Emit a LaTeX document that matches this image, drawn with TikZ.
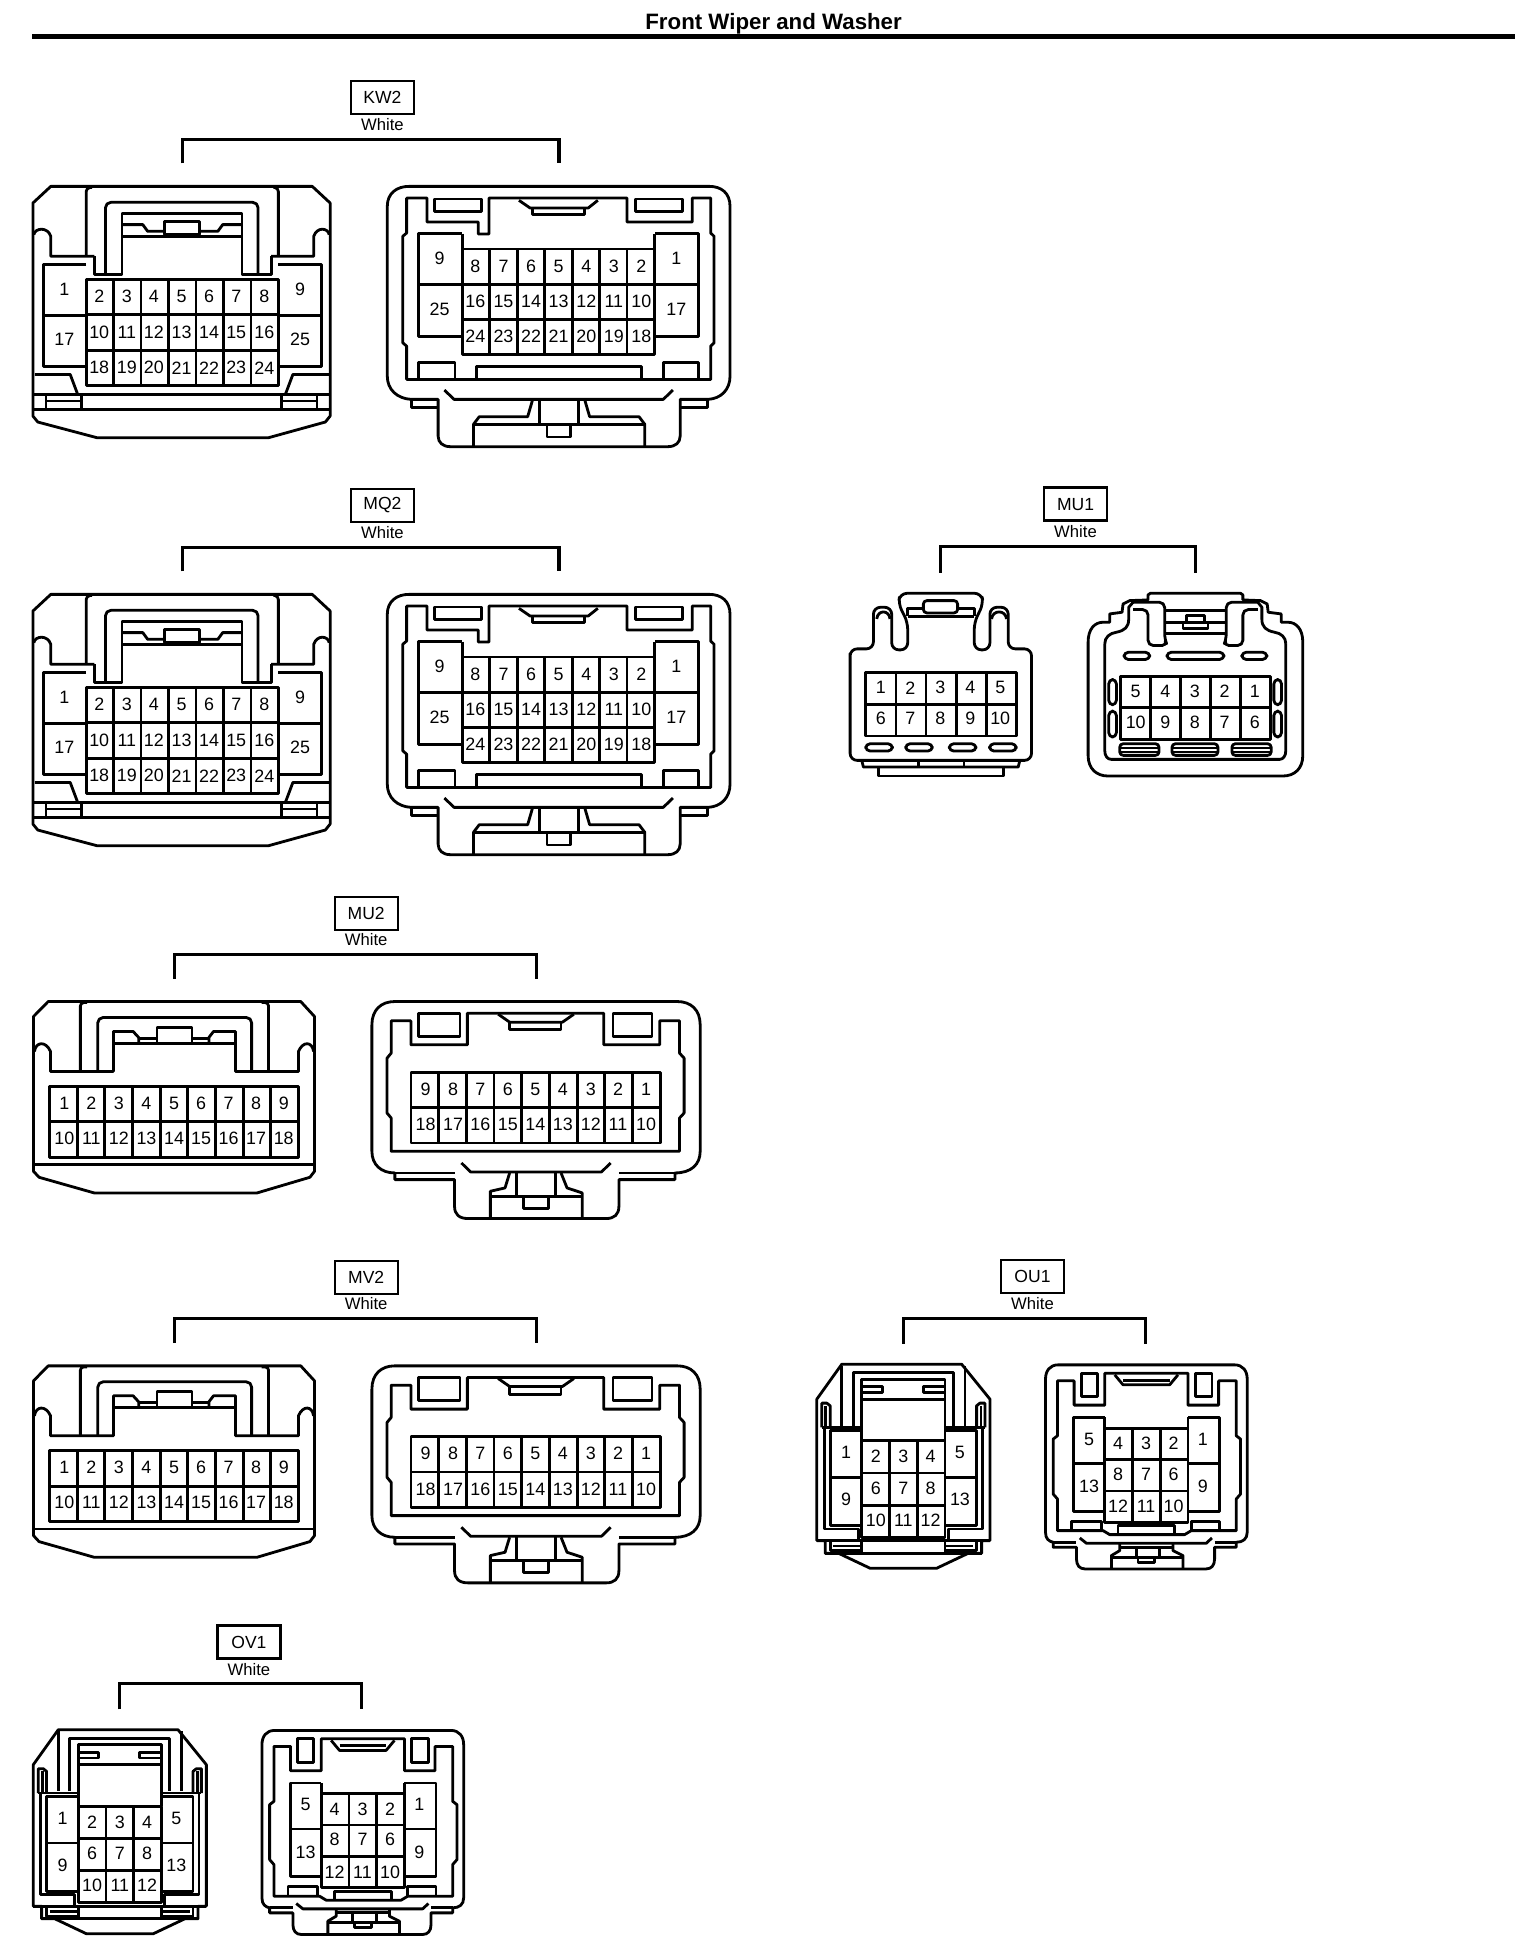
\documentclass[tikz,border=0pt]{standalone}
\usepackage{fontspec}
\setmainfont{Liberation Sans}
\usepackage{tikz}
\newcommand{\pinfont}{\fontsize{10.2}{12}\selectfont}
\tikzset{
	conn/.style={draw, line width=1.6pt, line join=round},
	pinnum/.style={font=\pinfont, inner sep=0pt},
	codebox/.style={draw, line width=1.3pt, minimum width=12.6mm, minimum height=6.6mm, inner sep=0pt, font=\fontsize{10}{12}\selectfont},
	colorname/.style={inner sep=0pt, font=\fontsize{9.5}{11}\selectfont},
	bracket/.style={draw, line width=1.8pt},
}
% numbers of one row
\newcommand{\pinrow}[5]{
	\foreach \px [count=\i from 0] in {#5} {
		\pgfmathtruncatemacro\pinno{#2+#3*\i}
		\node[pinnum] (#1\pinno) at (\px,#4) {\pinno};
	}
}
% block of cells: x0, x1, columns, y0, y1, rows
\newcommand{\pingrid}[6]{
	\draw[conn] (#1,#4) rectangle (#2,#5);
	\pgfmathtruncatemacro\lastc{#3-1}
	\pgfmathtruncatemacro\lastr{#6-1}
	\foreach \i in {1,...,\lastc} {
		\pgfmathsetmacro\gx{#1+(#2-#1)*\i/#3}
		\draw[conn] (\gx,#4) -- (\gx,#5);
	}
	\foreach \i in {1,...,\lastr} {
		\pgfmathsetmacro\gy{#4+(#5-#4)*\i/#6}
		\draw[conn] (#1,\gy) -- (#2,\gy);
	}
}
% code box, colour and the bracket: name, text, x, y, x1, x2, ytop, ybottom, ycolour
\newcommand{\connlabel}[9]{
	\node[codebox] (#1box) at (#3,#4) {#2};
	\node[colorname] (#1col) at (#3,#9) {White};
	\coordinate (#1a) at (#5,#8);
	\coordinate (#1b) at (#6,#8);
	\coordinate (#1top) at (#5,#7);
	\draw[bracket] (#1a) -- (#1top) -| (#1b);
}
% 25 pin, front
\newcommand{\connA}[3]{
\begin{scope}[shift={(#2,#3)},x=0.097mm,y=-0.0667mm]
	\draw[conn] (105,380) -- (645,380) -- (682,430) -- (682,1070) -- (672,1088) -- (555,1135) -- (200,1135) -- (78,1088) -- (68,1070) -- (68,430) -- cycle;
	\draw[conn] (68,1050) -- (682,1050);
	\draw[conn,rounded corners=2pt] (178,590) -- (178,385) -- (190,383);
	\draw[conn,rounded corners=2pt] (575,590) -- (575,385) -- (565,383);
	\draw[conn,rounded corners=3pt] (218,640) -- (218,428) -- (533,428) -- (533,640);
	\draw[conn] (195,590) -- (195,645) -- (252,645) -- (252,462) -- (500,462) -- (500,645) -- (560,645) -- (560,590);
	\draw[conn] (252,495) -- (295,495) -- (305,515) -- (340,515);
	\draw[conn] (412,515) -- (450,515) -- (460,495) -- (500,495);
	\draw[conn] (252,530) -- (500,530);
	\draw[conn] (340,525) rectangle (412,485);
	\draw[conn] (70,525) .. controls (72,505) and (98,500) .. (105,530) -- (105,590) -- (195,590);
	\draw[conn] (680,525) .. controls (678,505) and (655,500) .. (648,530) -- (648,590) -- (560,590);
	\draw[conn] (178,615) -- (90,615) -- (90,920) -- (178,920);
	\draw[conn] (90,768) -- (178,768);
	\draw[conn] (575,615) -- (664,615) -- (664,920) -- (575,920);
	\draw[conn] (575,768) -- (664,768);
	\pingrid{178}{575}{7}{660}{978}{3}
	\draw[conn] (72,945) -- (145,945) -- (160,1003);
	\draw[conn] (680,945) -- (605,945) -- (590,1003);
	\draw[conn] (68,1005) -- (682,1005);
	\draw[conn] (95,1005) -- (95,1048);
	\draw[conn] (168,1005) -- (168,1048);
	\draw[conn] (582,1005) -- (582,1048);
	\draw[conn] (655,1005) -- (655,1048);
	\draw[conn] (95,1025) -- (168,1025);
	\draw[conn] (582,1025) -- (655,1025);
	\node[pinnum] (#1n1) at (133,688) {1};
	\node[pinnum] (#1n17) at (133,840) {17};
	\node[pinnum] (#1n9) at (620,688) {9};
	\node[pinnum] (#1n25) at (620,840) {25};
	\pinrow{#1n}{2}{1}{710}{205,262,318,375,432,488,546}
	\pinrow{#1n}{10}{1}{818}{205,262,318,375,432,488,546}
	\pinrow{#1n}{18}{1}{925}{205,262,318,375,432,488,546}
\end{scope}
}
% 25 pin, rear
\newcommand{\connB}[3]{
\begin{scope}[shift={(#2,#3)},x=0.097mm,y=-0.0667mm]
	\draw[conn] (800,440) .. controls (800,400) and (820,380) .. (845,380) -- (1465,380) .. controls (1490,380) and (1508,400) .. (1508,440) -- (1508,950) .. controls (1508,990) and (1490,1018) .. (1462,1020) -- (1405,1020) -- (1405,1130) .. controls (1405,1150) and (1395,1162) .. (1380,1162) -- (930,1162) .. controls (915,1162) and (905,1150) .. (905,1130) -- (905,1020) -- (850,1020) .. controls (820,1018) and (800,990) .. (800,950) -- cycle;
	\draw[conn] (850,1020) -- (850,1044) -- (905,1044);
	\draw[conn] (1405,1044) -- (1462,1044) -- (1462,1020);
	\draw[conn] (840,415) -- (882,415) -- (882,487) -- (988,487) -- (988,523) -- (1010,523) -- (1010,415) -- (1295,415) -- (1295,487) -- (1430,487) -- (1430,415) -- (1468,415) -- (1468,520) -- (1475,530) -- (1475,850) -- (1468,860) -- (1468,960) -- (840,960) -- (840,860) -- (832,850) -- (832,530) -- (840,520) -- cycle;
	\draw[conn] (898,418) rectangle (995,455);
	\draw[conn] (1312,418) rectangle (1410,455);
	\draw[conn] (1072,422) -- (1095,445) -- (1215,445) -- (1235,422);
	\draw[conn] (1100,445) -- (1100,465) -- (1208,465) -- (1208,445);
	\draw[conn] (955,830) -- (865,830) -- (865,522) -- (955,522);
	\draw[conn] (865,675) -- (955,675);
	\draw[conn] (1352,830) -- (1443,830) -- (1443,522) -- (1352,522);
	\draw[conn] (1352,675) -- (1443,675);
	\draw[conn] (955,522) -- (955,568);
	\draw[conn] (1352,522) -- (1352,568);
	\pingrid{955}{1352}{7}{568}{885}{3}
	\draw[conn] (865,960) -- (865,910) -- (940,910) -- (940,960);
	\draw[conn] (1370,960) -- (1370,910) -- (1443,910) -- (1443,960);
	\draw[conn] (985,960) -- (985,922) -- (1325,922) -- (1325,960);
	\draw[conn] (918,992) -- (938,1020) -- (1370,1020) -- (1390,992);
	\draw[conn] (1100,1022) -- (1090,1072) -- (990,1072) -- (978,1095) -- (978,1162);
	\draw[conn] (1208,1022) -- (1218,1072) -- (1320,1072) -- (1332,1095) -- (1332,1162);
	\draw[conn] (978,1095) -- (1332,1095);
	\draw[conn] (1115,1025) -- (1115,1095);
	\draw[conn] (1195,1025) -- (1195,1095);
	\draw[conn] (1130,1095) -- (1130,1133) -- (1178,1133) -- (1178,1095);
	\node[pinnum] (#1n9) at (908,597) {9};
	\node[pinnum] (#1n25) at (908,750) {25};
	\node[pinnum] (#1n1) at (1397,597) {1};
	\node[pinnum] (#1n17) at (1397,750) {17};
	\pinrow{#1n}{8}{-1}{620}{982,1040,1097,1154,1211,1268,1325}
	\pinrow{#1n}{16}{-1}{725}{982,1040,1097,1154,1211,1268,1325}
	\pinrow{#1n}{24}{-1}{830}{982,1040,1097,1154,1211,1268,1325}
\end{scope}
}
% 18 pin, front
\newcommand{\connC}[3]{
\begin{scope}[shift={(#2,#3)},x=0.092mm,y=-0.0667mm]
	\draw[conn] (105,310) -- (655,310) -- (685,355) -- (685,820) -- (675,838) -- (560,885) -- (205,885) -- (85,838) -- (73,820) -- (73,355) -- cycle;
	\draw[conn] (73,800) -- (685,800);
	\draw[conn,rounded corners=2pt] (175,520) -- (175,313) -- (190,313);
	\draw[conn,rounded corners=2pt] (585,520) -- (585,313) -- (570,313);
	\draw[conn,rounded corners=3pt] (213,520) -- (213,358) -- (548,358) -- (548,520);
	\draw[conn] (75,460) .. controls (78,430) and (100,428) .. (110,460) -- (110,520) -- (247,520) -- (247,400) -- (290,400) -- (302,418) -- (302,435);
	\draw[conn] (683,460) .. controls (680,430) and (660,428) .. (650,460) -- (650,520) -- (513,520) -- (513,400) -- (465,400) -- (455,418) -- (455,435);
	\draw[conn] (247,435) -- (513,435);
	\draw[conn] (302,420) -- (342,420);
	\draw[conn] (418,420) -- (455,420);
	\draw[conn] (342,435) rectangle (418,388);
	\pingrid{108}{650}{9}{565}{778}{2}
	\pinrow{#1n}{1}{1}{615}{140,199,259,319,379,438,498,558,618}
	\pinrow{#1n}{10}{1}{720}{140,199,259,319,379,438,498,558,618}
\end{scope}
}
% 18 pin, rear
\newcommand{\connD}[3]{
\begin{scope}[shift={(#2,#3)},x=0.092mm,y=-0.0667mm]
	\draw[conn] (810,380) .. controls (810,335) and (830,310) .. (860,310) -- (1475,310) .. controls (1505,310) and (1525,335) .. (1525,380) -- (1525,760) .. controls (1525,800) and (1505,825) .. (1470,825) -- (1470,845) -- (1348,845) -- (1348,925) .. controls (1348,950) and (1338,962) .. (1320,962) -- (1020,962) .. controls (1000,962) and (990,950) .. (990,925) -- (990,845) -- (860,845) -- (860,825) .. controls (830,825) and (810,800) .. (810,760) -- cycle;
	\draw[conn] (860,825) -- (990,825);
	\draw[conn] (1348,825) -- (1470,825);
	\draw[conn] (852,368) -- (895,368) -- (895,440) -- (1018,440) -- (1018,345) -- (1315,345) -- (1315,440) -- (1437,440) -- (1437,368) -- (1480,368) -- (1480,465) -- (1490,480) -- (1490,645) -- (1480,660) -- (1480,760) -- (852,760) -- (852,660) -- (843,645) -- (843,480) -- (852,465) -- cycle;
	\draw[conn] (912,345) rectangle (1002,415);
	\draw[conn] (1335,345) rectangle (1420,415);
	\draw[conn] (1085,348) -- (1110,372) -- (1225,372) -- (1250,348);
	\draw[conn] (1110,372) -- (1110,395) -- (1222,395) -- (1222,372);
	\pingrid{895}{1438}{9}{523}{735}{2}
	\draw[conn] (1005,795) -- (1025,822) -- (1310,822) -- (1330,795);
	\draw[conn] (1110,825) -- (1100,870) -- (1068,880) -- (1068,962);
	\draw[conn] (1222,825) -- (1235,870) -- (1268,885) -- (1268,962);
	\draw[conn] (1068,895) -- (1268,895);
	\draw[conn] (1125,825) -- (1125,895);
	\draw[conn] (1210,825) -- (1210,895);
	\draw[conn] (1140,895) -- (1140,932) -- (1195,932) -- (1195,895);
	\pinrow{#1n}{9}{-1}{573}{927,987,1046,1106,1166,1226,1287,1346,1407}
	\pinrow{#1n}{18}{-1}{680}{927,987,1046,1106,1166,1226,1287,1346,1407}
\end{scope}
}
% 10 pin, front
\newcommand{\connE}[3]{
\begin{scope}[shift={(#2,#3)},x=0.0667mm,y=-0.0667mm]
	\draw[conn,rounded corners=4pt] (95,545) -- (95,510) -- (165,510) -- (165,385) -- (220,385) -- (220,513) -- (268,513) -- (268,430) -- (240,375) -- (245,343) -- (490,343) -- (495,375) -- (468,430) -- (468,513) -- (515,513) -- (515,385) -- (570,385) -- (570,510) -- (640,510) -- (640,845) -- (95,845) -- cycle;
	\draw[conn] (130,845) -- (135,865) -- (600,865) -- (605,845);
	\draw[conn] (300,845) -- (300,865);
	\draw[conn] (437,845) -- (437,865);
	\draw[conn] (180,865) -- (180,892) -- (555,892) -- (555,865);
	\draw[conn] (175,420) .. controls (178,392) and (212,392) .. (215,420);
	\draw[conn] (520,420) .. controls (523,392) and (562,392) .. (565,420);
	\draw[conn,rounded corners=2pt] (315,365) rectangle (418,402);
	\draw[conn] (268,412) -- (268,388) -- (315,388);
	\draw[conn] (468,412) -- (468,388) -- (418,388);
	\draw[conn] (268,412) -- (468,412);
	\pingrid{142}{595}{5}{580}{772}{2}
	\foreach \sx in {142,262,393,514} {
		\draw[conn,rounded corners=2.5pt] (\sx,795) rectangle ++(80,22);
	}
	\pinrow{#1n}{1}{1}{627}{187,276,366,456,546}
	\pinrow{#1n}{6}{1}{720}{187,276,366,456,546}
\end{scope}
}
% 10 pin, rear
\newcommand{\connF}[3]{
\begin{scope}[shift={(#2,#3)},x=0.0667mm,y=-0.0667mm]
	\draw[conn] (810,490) .. controls (810,450) and (830,430) .. (855,430) -- (875,430) -- (875,405) -- (912,400) -- (915,375) -- (935,365) -- (990,363) -- (990,348) -- (997,343) -- (1268,343) -- (1275,348) -- (1275,363) -- (1328,365) -- (1348,375) -- (1351,400) -- (1390,405) -- (1390,430) -- (1410,430) .. controls (1435,430) and (1455,450) .. (1455,490) -- (1455,830) .. controls (1455,870) and (1430,892) .. (1395,892) -- (870,892) .. controls (835,892) and (810,870) .. (810,830) -- cycle;
	\draw[conn] (860,495) .. controls (860,475) and (875,463) .. (895,460) .. controls (920,455) and (932,445) .. (932,420) -- (932,385) -- (945,370);
	\draw[conn] (1404,495) .. controls (1404,475) and (1390,463) .. (1370,460) .. controls (1345,455) and (1332,445) .. (1332,420) -- (1332,385) -- (1320,370);
	\draw[conn] (860,495) -- (860,815) .. controls (860,832) and (868,842) .. (880,842) -- (1385,842) .. controls (1396,842) and (1404,832) .. (1404,815) -- (1404,495);
	\draw[conn,rounded corners=3pt] (945,392) -- (990,392) -- (990,500) -- (1048,500) -- (1040,480) -- (1040,370) -- (945,370);
	\draw[conn,rounded corners=3pt] (1320,392) -- (1275,392) -- (1275,500) -- (1217,500) -- (1225,480) -- (1225,370) -- (1320,370);
	\draw[conn] (1040,395) -- (1225,395);
	\draw[conn] (1040,430) -- (1225,430);
	\draw[conn] (1040,463) -- (1225,463);
	\draw[conn] (1105,430) rectangle (1160,410);
	\draw[conn] (1095,430) rectangle (1170,450);
	\draw[conn,rounded corners=2.5pt] (918,520) rectangle (995,542);
	\draw[conn,rounded corners=2.5pt] (1047,520) rectangle (1218,542);
	\draw[conn,rounded corners=2.5pt] (1272,520) rectangle (1347,542);
	\foreach \sx in {872,1368} {
		\draw[conn,rounded corners=2.5pt] (\sx,602) rectangle ++(23,76);
		\draw[conn,rounded corners=2.5pt] (\sx,697) rectangle ++(23,78);
	}
	\pingrid{907}{1358}{5}{592}{782}{2}
	\foreach \sx/\sy in {905/1023,1062/1200,1242/1360} {
		\draw[conn,rounded corners=2pt] (\sx,795) rectangle (\sy,830);
		\draw[conn] (\sx,808) -- (\sy,808);
		\draw[conn] (\sx,820) -- (\sy,820);
	}
	\pinrow{#1n}{5}{-1}{637}{953,1042,1131,1220,1311}
	\pinrow{#1n}{10}{-1}{732}{953,1042,1131,1220,1311}
\end{scope}
}
% 13 pin, front
\newcommand{\connG}[3]{
\begin{scope}[shift={(#2,#3)},x=0.0667mm,y=-0.0667mm]
	\draw[conn] (130,320) -- (490,320) -- (575,425) -- (575,850) -- (550,850) -- (550,888) -- (510,888) -- (415,933) -- (215,933) -- (120,888) -- (80,888) -- (80,850) -- (55,850) -- (55,425) -- cycle;
	\draw[conn] (55,850) -- (575,850);
	\draw[conn] (130,325) -- (130,505);
	\draw[conn] (500,325) -- (500,505);
	\draw[conn] (165,505) -- (165,345) -- (465,345) -- (465,505);
	\draw[conn] (190,550) -- (190,365) -- (440,365) -- (440,550);
	\draw[conn] (190,388) -- (252,388) -- (252,405) -- (190,405);
	\draw[conn] (440,388) -- (375,388) -- (375,405) -- (440,405);
	\draw[conn] (190,425) -- (440,425);
	\draw[conn] (70,510) -- (70,437) -- (85,437) -- (95,445) -- (95,510);
	\draw[conn] (560,510) -- (560,437) -- (545,437) -- (535,445) -- (535,510);
	\draw[conn] (82,445) -- (82,510);
	\draw[conn] (548,445) -- (548,510);
	\draw[conn] (70,510) -- (190,510);
	\draw[conn] (440,510) -- (560,510);
	\draw[conn] (77,510) -- (77,815) -- (180,815) -- (180,850);
	\draw[conn] (553,510) -- (553,815) -- (450,815) -- (450,850);
	\draw[conn] (190,520) -- (95,520) -- (95,805) -- (190,805);
	\draw[conn] (95,660) -- (190,660);
	\draw[conn] (440,520) -- (535,520) -- (535,805) -- (440,805);
	\draw[conn] (440,660) -- (535,660);
	\pingrid{190}{440}{3}{550}{840}{3}
	\draw[conn] (80,888) -- (550,888);
	\draw[conn] (95,850) -- (95,880) -- (190,880);
	\draw[conn] (190,850) -- (190,888);
	\draw[conn] (440,850) -- (440,888);
	\draw[conn] (535,850) -- (535,880) -- (440,880);
	\draw[conn] (105,866) -- (190,866);
	\draw[conn] (440,866) -- (525,866);
	\node[pinnum] (#1n1) at (143,585) {1};
	\node[pinnum] (#1n9) at (143,727) {9};
	\node[pinnum] (#1n5) at (485,585) {5};
	\node[pinnum] (#1n13) at (485,727) {13};
	\pinrow{#1n}{2}{1}{598}{232,315,397}
	\pinrow{#1n}{6}{1}{692}{232,315,397}
	\pinrow{#1n}{10}{1}{788}{232,315,397}
\end{scope}
}
% 13 pin, rear
\newcommand{\connH}[3]{
\begin{scope}[shift={(#2,#3)},x=0.0667mm,y=-0.0667mm]
	\draw[conn] (742,365) .. controls (742,340) and (755,322) .. (780,322) -- (1310,322) .. controls (1335,322) and (1348,340) .. (1348,365) -- (1348,825) .. controls (1348,845) and (1335,855) .. (1315,855) -- (1315,870) -- (1250,870) -- (1250,905) .. controls (1250,925) and (1240,935) .. (1225,935) -- (860,935) .. controls (845,935) and (835,925) .. (835,905) -- (835,870) -- (765,870) -- (765,855) .. controls (752,852) and (742,845) .. (742,825) -- cycle;
	\draw[conn] (765,855) -- (835,855);
	\draw[conn] (1250,855) -- (1315,855);
	\draw[conn] (778,370) -- (828,370) -- (828,443) -- (920,443) -- (920,347) -- (1170,347) -- (1170,443) -- (1262,443) -- (1262,370) -- (1315,370) -- (1315,535) -- (1328,545) -- (1328,710) -- (1315,725) -- (1315,820) -- (1180,820) -- (1160,832) -- (935,832) -- (915,820) -- (778,820) -- (778,725) -- (765,710) -- (765,545) -- (778,535) -- cycle;
	\draw[conn] (850,347) rectangle (897,418);
	\draw[conn] (1192,347) rectangle (1242,418);
	\draw[conn] (950,352) -- (975,382) -- (1115,382) -- (1140,352);
	\draw[conn] (975,368) -- (1115,368);
	\draw[conn] (920,762) -- (827,762) -- (827,480) -- (920,480);
	\draw[conn] (827,618) -- (920,618);
	\draw[conn] (1170,762) -- (1265,762) -- (1265,480) -- (1170,480);
	\draw[conn] (1170,618) -- (1265,618);
	\draw[conn] (920,480) -- (920,512);
	\draw[conn] (1170,480) -- (1170,512);
	\pingrid{920}{1170}{3}{512}{795}{3}
	\draw[conn] (820,820) -- (820,792) -- (910,792) -- (910,820);
	\draw[conn] (1180,820) -- (1180,792) -- (1265,792) -- (1265,820);
	\draw[conn] (960,832) -- (960,805) -- (1130,805) -- (1130,832);
	\draw[conn] (845,842) -- (865,858) -- (1225,858) -- (1242,842);
	\draw[conn] (965,858) -- (965,880) -- (940,895) -- (940,935);
	\draw[conn] (1125,858) -- (1125,880) -- (1155,895) -- (1155,935);
	\draw[conn] (965,870) -- (1125,870);
	\draw[conn] (940,900) -- (1155,900);
	\draw[conn] (1015,870) -- (1015,900);
	\draw[conn] (1085,870) -- (1085,900);
	\draw[conn] (1020,900) -- (1020,915) -- (1070,915) -- (1070,900);
	\node[pinnum] (#1n5) at (873,545) {5};
	\node[pinnum] (#1n13) at (873,687) {13};
	\node[pinnum] (#1n1) at (1215,545) {1};
	\node[pinnum] (#1n9) at (1215,687) {9};
	\pinrow{#1n}{4}{-1}{558}{960,1044,1127}
	\pinrow{#1n}{8}{-1}{650}{960,1044,1127}
	\pinrow{#1n}{12}{-1}{747}{960,1044,1127}
\end{scope}
}

\begin{document}
\begin{tikzpicture}[x=0.25mm,y=-0.25mm]
	\useasboundingbox (0,0) rectangle (1231,1567.7);
	\node[inner sep=0pt, font=\fontsize{12.7}{15}\selectfont\bfseries] (title) at (620,19) {Front Wiper and Washer};
	\coordinate (ruleleft) at (26,29);
	\coordinate (ruleright) at (1214,29);
	\draw[line width=2.8pt] (ruleleft) -- (ruleright);
	% KW2
	\connlabel{kw}{KW2}{306.5}{78}{146}{448}{112}{131}{100}
	\connA{kwf}{0}{48}
	\connB{kwr}{0}{48}
	% MQ2
	\connlabel{mq}{MQ2}{306.5}{405}{146}{448}{439}{458}{427}
	\connA{mqf}{0}{375}
	\connB{mqr}{0}{375}
	% MU1
	\connlabel{mua}{MU1}{862}{404}{754}{958}{438}{459}{426}
	\connE{muaf}{656}{384}
	\connF{muar}{656}{384}
	% MU2
	\connlabel{mub}{MU2}{293.5}{732}{140}{430}{765}{784.5}{753}
	\connC{mubf}{0}{720}
	\connD{mubr}{0}{720}
	% MV2
	\connlabel{mv}{MV2}{293.5}{1024}{140}{430}{1057}{1076.5}{1045}
	\connC{mvf}{0}{1012}
	\connD{mvr}{0}{1012}
	% OU1
	\connlabel{ou}{OU1}{827.5}{1023}{724}{918}{1056.5}{1077}{1045}
	\connG{ouf}{640}{1008}
	\connH{our}{640}{1008}
	% OV1
	\connlabel{ov}{OV1}{199.5}{1316}{96}{290}{1349.5}{1370}{1338}
	\connG{ovf}{12}{1301}
	\connH{ovr}{12}{1301}
\end{tikzpicture}
\end{document}
